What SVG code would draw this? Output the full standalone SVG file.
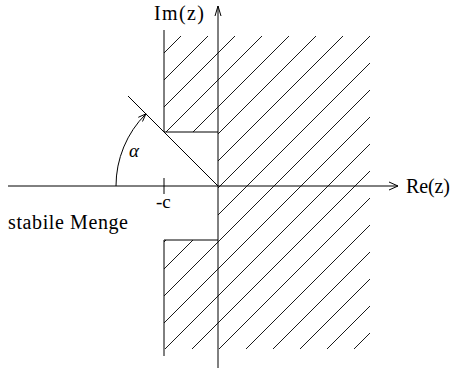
<svg xmlns="http://www.w3.org/2000/svg" width="456" height="368" viewBox="0 0 456 368">
<style>
.ln{fill:none;stroke:#000;stroke-width:1}
.h{fill:none;stroke:#000;stroke-width:0.9}
text{font-family:'Liberation Serif','Times New Roman',serif;font-size:20px;fill:#000}
</style>
<defs>
<clipPath id="hc">
<rect x="218" y="36" width="152" height="313"/>
<rect x="164" y="36" width="54" height="96"/>
<rect x="164" y="240" width="54" height="109"/>
</clipPath>
</defs>
<rect width="456" height="368" fill="#fff"/>
<g id="hatching" clip-path="url(#hc)">
<path class="h" d="M100,117L400,-183M100,144L400,-156M100,171L400,-129M100,198L400,-102M100,225L400,-75M100,252L400,-48M100,279L400,-21M100,306L400,6M100,333L400,33M100,360L400,60M100,387L400,87M100,414L400,114M100,441L400,141M100,468L400,168M100,495L400,195M100,522L400,222M100,549L400,249M100,576L400,276M100,603L400,303"/>
</g>
<g id="connectors">
<path id="re-axis" class="ln" d="M8,186H398M389,182L398,186L389,190"/>
<path id="im-axis" class="ln" d="M218,368V6M215,16L218,6L221,16"/>
<path id="boundary-top" class="ln" d="M164,30V132H218"/>
<path id="boundary-bottom" class="ln" d="M164,356V240H218"/>
<path id="diagonal" class="ln" d="M128,96L218,186"/>
<path id="tick" class="ln" d="M164,178V194"/>
<path id="alpha-arc" class="ln" d="M116,186A102,102 0 0 1 145.9,113.9M138.3,117.3L145.9,113.9L142.5,121.5"/>
</g>
<g id="labels">
<text x="154" y="20" textLength="50">Im(z)</text>
<text x="406" y="193" textLength="44">Re(z)</text>
<text x="8" y="229" textLength="120">stabile Menge</text>
<text x="129" y="157" style="font-size:19px;font-style:italic">α</text>
<text x="156" y="208" style="font-size:19px">-c</text>
</g>
</svg>
